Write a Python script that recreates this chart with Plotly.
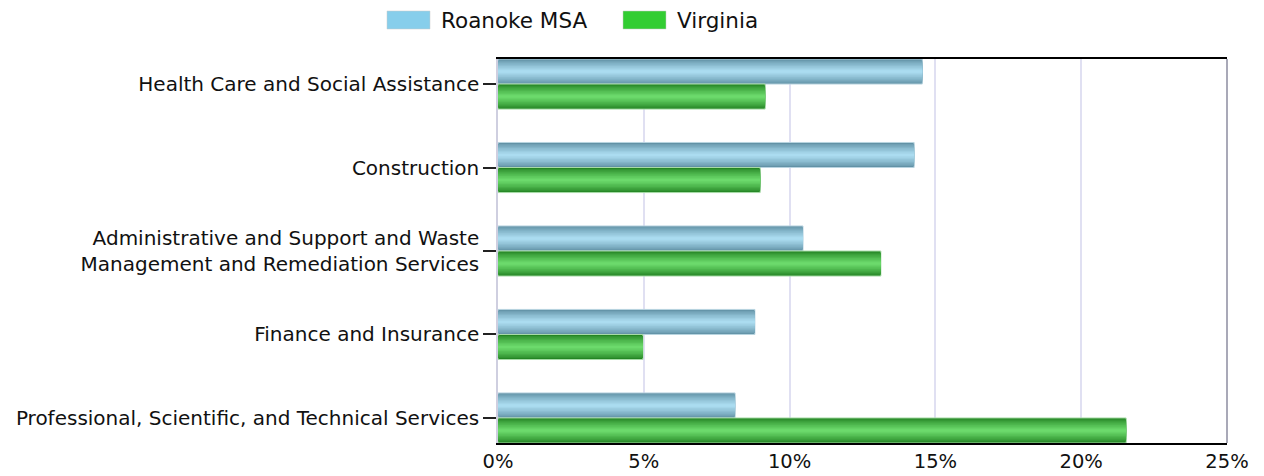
import plotly.graph_objects as go

categories = [
    "Health Care and Social Assistance",
    "Construction",
    "Administrative and Support and Waste<br>Management and Remediation Services",
    "Finance and Insurance",
    "Professional, Scientific, and Technical Services",
]
series_names = ["Roanoke MSA", "Virginia"]
roanoke = [14.55, 14.27, 10.46, 8.81, 8.13]
virginia = [9.16, 8.99, 13.13, 4.97, 21.54]
x_ticks = [0, 5, 10, 15, 20, 25]
x_tick_labels = ["0%", "5%", "10%", "15%", "20%", "25%"]

FONT = "DejaVu Sans, Verdana, sans-serif"
yidx = list(range(len(categories)))

# page body has an 8px margin; wanted plot area in window: x 498..1227, y 59..443
PL, PT, PW, PH = 498, 59, 729, 384
BODY = 8
FIG_W, FIG_H = 1264 - BODY, 476 - BODY


def mix(c1, c2, t):
    return "#%02x%02x%02x" % tuple(round(a + (b - a) * t) for a, b in zip(c1, c2))


styles = [
    # (values, offset, edge colour, centre colour, border, legend colour)
    (roanoke, -0.3, (0x62, 0x92, 0xa6), (0xab, 0xdc, 0xf0), "#b8d4e0", "#87ceeb"),
    (virginia, 0.0, (0x24, 0x85, 0x24), (0x6c, 0xda, 0x6c), "#a8dca8", "#32cd32"),
]

fig = go.Figure()
n_layers = 9
full = 0.3
for (vals, off, edge, centre, border, _), name in zip(styles, series_names):
    for k in range(n_layers):
        t = k / (n_layers - 1)
        w = full * (1 - 0.9 * t)
        o = off + (full - w) / 2
        fig.add_trace(go.Bar(
            y=yidx, x=vals, orientation="h", name=name,
            width=w, offset=o,
            marker=dict(color=mix(edge, centre, t ** 0.8),
                        line=dict(width=1 if k == 0 else 0, color=border)),
            showlegend=False, hoverinfo="skip" if k else "x+name",
        ))

# right edge line of the plot frame
fig.add_shape(type="line", xref="paper", yref="paper", x0=1, x1=1, y0=0, y1=1,
              line=dict(color="#8c8ca0", width=1.5))

# legend (wide swatches like the original)
swatch_l = [387, 623]
for i, name in enumerate(series_names):
    x0 = (swatch_l[i] - PL) / PW
    x1 = (swatch_l[i] + 43 - PL) / PW
    fig.add_shape(type="rect", xref="paper", yref="paper",
                  x0=x0, x1=x1, y0=1 + (PT - 29) / PH, y1=1 + (PT - 11) / PH,
                  fillcolor=styles[i][5], line=dict(color="#c8c8c8", width=0.5))
    fig.add_annotation(text=name, xref="paper", yref="paper",
                       x=(swatch_l[i] + 52 - PL) / PW, y=1 + (PT - 20) / PH,
                       xanchor="left", yanchor="middle", showarrow=False,
                       font=dict(family=FONT, size=21.5, color="#111111"))

fig.update_layout(
    width=FIG_W, height=FIG_H,
    margin=dict(l=PL - BODY, r=FIG_W - (PL - BODY) - PW,
                t=PT - BODY, b=FIG_H - (PT - BODY) - PH, autoexpand=False),
    barmode="overlay",
    plot_bgcolor="white", paper_bgcolor="white",
    showlegend=False,
    font=dict(family=FONT, size=20, color="#111111"),
    xaxis=dict(
        range=[0, 25], tickvals=x_ticks, ticktext=x_tick_labels,
        showgrid=True, gridcolor="#e0e0f2", gridwidth=1.5,
        showline=True, linecolor="black", linewidth=2, mirror=True,
        zeroline=False, ticks="", tickfont=dict(size=19.5), automargin=False,
    ),
    yaxis=dict(
        tickvals=yidx, ticktext=categories, range=[4.3, -0.3],
        showline=True, linecolor="#cfcfe0", linewidth=1.5,
        ticks="outside", ticklen=13, tickcolor="#222222", tickwidth=1.5,
        showgrid=False, zeroline=False, tickfont=dict(size=20), automargin=False,
    ),
)

fig.write_html("out.html")
